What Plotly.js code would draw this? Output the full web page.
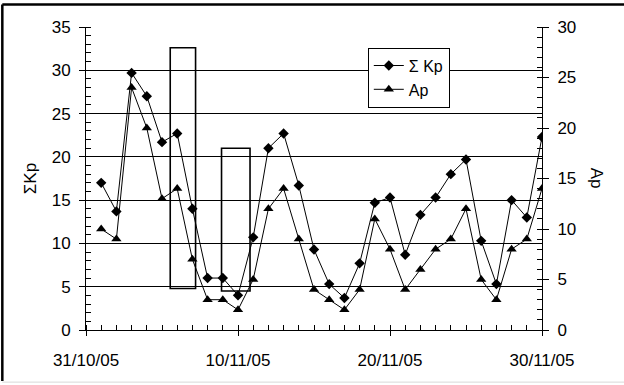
<!DOCTYPE html>
<html>
<head>
<meta charset="utf-8">
<script src="https://cdn.plot.ly/plotly-3.0.1.min.js"></script>
<style>html,body{margin:0;padding:0;background:#fff;}#chart{width:624px;height:385px;}</style>
</head>
<body>
<div id="chart"></div>
<script>
// Data
const dates = ['2005-11-01','2005-11-02','2005-11-03','2005-11-04','2005-11-05','2005-11-06','2005-11-07','2005-11-08','2005-11-09','2005-11-10',
               '2005-11-11','2005-11-12','2005-11-13','2005-11-14','2005-11-15','2005-11-16','2005-11-17','2005-11-18','2005-11-19','2005-11-20',
               '2005-11-21','2005-11-22','2005-11-23','2005-11-24','2005-11-25','2005-11-26','2005-11-27','2005-11-28','2005-11-29','2005-11-30'];
const sumKp = [17, 13.7, 29.7, 27, 21.7, 22.7, 14, 6, 6, 4,
               10.7, 21, 22.7, 16.7, 9.3, 5.3, 3.7, 7.7, 14.7, 15.3,
               8.7, 13.3, 15.3, 18, 19.7, 10.3, 5.3, 15, 13, 22.3];
const ap = [10, 9, 24, 20, 13, 14, 7, 3, 3, 2,
            5, 12, 14, 9, 4, 3, 2, 4, 11, 8,
            4, 6, 8, 9, 12, 5, 3, 8, 9, 14];
const seriesNames = ['\u03A3 Kp', 'Ap'];
const leftTitle = '\u03A3Kp';
const rightTitle = 'Ap';
// highlighted intervals: [start, end, bottom, top] on the left axis
const boxStart = ['2005-11-05 13:00', '2005-11-08 22:00'];
const boxEnd = ['2005-11-07 05:00', '2005-11-10 19:00'];
const boxBottom = [4.8, 4.5];
const boxTop = [32.6, 21.0];

const FONT = 'Liberation Sans, Arial, sans-serif';

const traces = [
  {x: dates, y: sumKp, name: seriesNames[0], type: 'scatter', mode: 'lines+markers',
   line: {color: '#000', width: 1}, marker: {symbol: 'diamond', size: 8, color: '#000'}, yaxis: 'y'},
  {x: dates, y: ap, name: seriesNames[1], type: 'scatter', mode: 'lines+markers',
   line: {color: '#000', width: 1}, marker: {symbol: 'triangle-up', size: 9, color: '#000'}, yaxis: 'y2'}
];

const shapes = boxStart.map((s, i) => ({
  type: 'rect', xref: 'x', yref: 'y', x0: s, x1: boxEnd[i], y0: boxBottom[i], y1: boxTop[i],
  line: {color: '#000', width: 1.6}, fillcolor: 'rgba(0,0,0,0)'
}));
// outer frame
shapes.push({type: 'line', xref: 'paper', yref: 'paper', x0: -0.1835, x1: -0.1835, y0: -0.168, y1: 1.074, line: {color: '#000', width: 2.5}});
shapes.push({type: 'line', xref: 'paper', yref: 'paper', x0: -0.1835, x1: 1.2, y0: 1.074, y1: 1.074, line: {color: '#000', width: 2.5}});
shapes.push({type: 'line', xref: 'paper', yref: 'paper', x0: -0.1835, x1: 1.2, y0: -0.172, y1: -0.172, line: {color: '#d8d8d8', width: 1}});

const layout = {
  width: 624, height: 385,
  margin: {l: 86, r: 82, t: 27, b: 55, pad: 0},
  paper_bgcolor: '#fff', plot_bgcolor: '#fff',
  font: {family: FONT, size: 17, color: '#000'},
  showlegend: true,
  legend: {x: 0.618, y: 0.932, xanchor: 'left', yanchor: 'top', bgcolor: '#fff',
           bordercolor: '#000', borderwidth: 1, font: {family: FONT, size: 16, color: '#000'},
           tracegroupgap: 0, itemwidth: 30},
  xaxis: {type: 'date', range: ['2005-10-31', '2005-11-30'], tick0: '2005-10-31', dtick: 864000000,
          tickformat: '%d/%m/%y', showgrid: false, zeroline: false, showline: true, linecolor: '#000', linewidth: 1,
          ticks: 'outside', ticklen: 5, tickcolor: '#000', tickwidth: 1, ticklabelstandoff: 10,
          minor: {dtick: 86400000, ticks: 'inside', ticklen: 5, tickcolor: '#000', showgrid: false},
          tickfont: {family: FONT, size: 17, color: '#000'}, fixedrange: true},
  yaxis: {range: [0, 35], dtick: 5, tick0: 0, showgrid: true, gridcolor: '#000', gridwidth: 1,
          zeroline: false, showline: true, linecolor: '#000', linewidth: 1,
          ticks: 'outside', ticklen: 6, tickcolor: '#000', ticklabelstandoff: 5,
          minor: {dtick: 1, ticks: 'inside', ticklen: 5, tickcolor: '#000', showgrid: false},
          tickfont: {family: FONT, size: 17, color: '#000'},
          title: {text: leftTitle, font: {family: FONT, size: 17, color: '#000'}, standoff: 10}},
  yaxis2: {range: [0, 30], dtick: 5, tick0: 0, overlaying: 'y', side: 'right', showgrid: false,
           zeroline: false, showline: true, linecolor: '#000', linewidth: 1,
           ticks: 'outside', ticklen: 6, tickcolor: '#000', ticklabelstandoff: 5,
           minor: {dtick: 1, ticks: 'inside', ticklen: 5, tickcolor: '#000', showgrid: false},
           tickfont: {family: FONT, size: 17, color: '#000'}},
  shapes: shapes,
  annotations: [{text: rightTitle, xref: 'paper', yref: 'paper', x: 1.12, y: 0.5, textangle: 90,
                 showarrow: false, font: {family: FONT, size: 17, color: '#000'}, xanchor: 'center', yanchor: 'middle'}]
};

Plotly.newPlot('chart', traces, layout, {staticPlot: true, displayModeBar: false});
</script>
</body>
</html>
